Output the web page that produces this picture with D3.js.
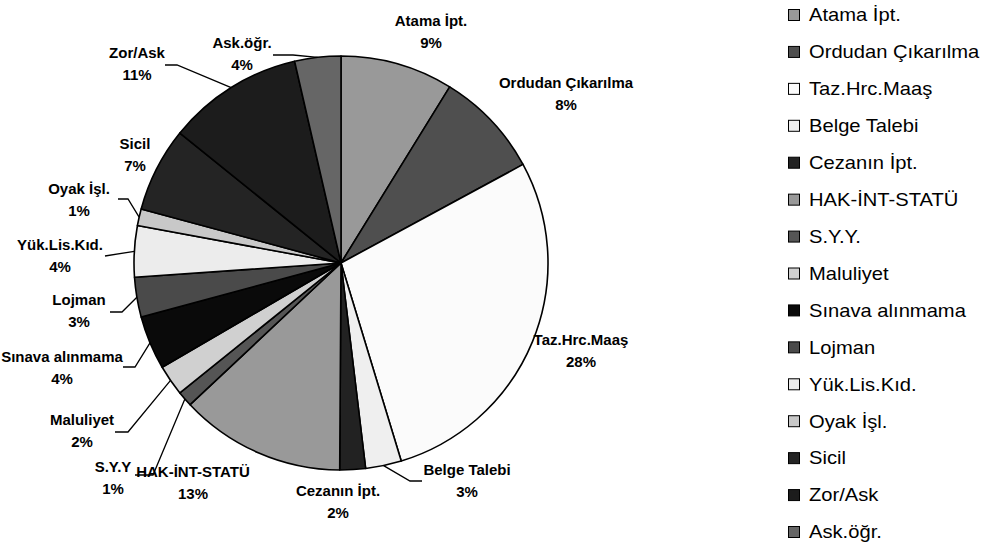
<!DOCTYPE html>
<html>
<head>
<meta charset="utf-8">
<script src="https://cdn.jsdelivr.net/npm/d3@7"></script>
<style>
  html, body { margin: 0; padding: 0; background: #fff; }
  svg { display: block; }
</style>
</head>
<body>
<svg id="chart" width="987" height="547"></svg>
<script>
// ---- data ----
const categories = ["Atama İpt.", "Ordudan Çıkarılma", "Taz.Hrc.Maaş", "Belge Talebi", "Cezanın İpt.",
  "HAK-İNT-STATÜ", "S.Y.Y.", "Maluliyet", "Sınava alınmama", "Lojman", "Yük.Lis.Kıd.",
  "Oyak İşl.", "Sicil", "Zor/Ask", "Ask.öğr."];
const sliceLabels = ["Atama İpt.", "Ordudan Çıkarılma", "Taz.Hrc.Maaş", "Belge Talebi", "Cezanın İpt.",
  "HAK-İNT-STATÜ", "S.Y.Y", "Maluliyet", "Sınava alınmama", "Lojman", "Yük.Lis.Kıd.",
  "Oyak İşl.", "Sicil", "Zor/Ask", "Ask.öğr."];
const values = [8.8, 8.3, 28.2, 2.8, 2.0, 12.9, 1.2, 2.4, 4.2, 3.1, 4.0, 1.3, 6.6, 10.6, 3.6];
const colors = ["#999999", "#4f4f4f", "#fbfbfb", "#efefef", "#222222", "#999999", "#555555",
  "#d0d0d0", "#0a0a0a", "#4a4a4a", "#ececec", "#c8c8c8", "#242424", "#1c1c1c", "#666666"];

// ---- layout (label anchors and leader elbows) ----
const labelPos = [[431, 21], [566, 83], [581, 340], [467, 470], [338, 491], [193, 472], [113, 467],
  [82, 420], [62, 357], [79, 300], [60, 245], [79, 189], [135, 144], [137, 53], [242, 43]];
const leaders = {
  3: [[410, 481], [422, 481]],
  6: [[153, 475], [135, 475]],
  7: [[128, 432], [115, 432]],
  8: [[135, 367], [123, 367]],
  9: [[122, 312], [110, 312]],
  10: [[105, 256]],
  11: [[128, 199], [118, 199]],
  13: [[177, 65], [165, 65]],
  14: [[293, 55], [273, 55]]
};

const svg = d3.select("#chart");
const cx = 341, cy = 263, R = 207;

const total = d3.sum(values);
const pie = d3.pie().sort(null).value(d => d)(values);
const arc = d3.arc().innerRadius(0).outerRadius(R);

const g = svg.append("g").attr("transform", `translate(${cx},${cy})`);
g.selectAll("path.slice").data(pie).enter().append("path")
  .attr("class", "slice")
  .attr("d", arc)
  .attr("fill", (d, i) => colors[i])
  .attr("stroke", "#000")
  .attr("stroke-width", 1.6)
  .attr("stroke-linejoin", "round");

// leader lines
const line = d3.line();
pie.forEach((d, i) => {
  if (!leaders[i]) return;
  const a = (d.startAngle + d.endAngle) / 2;
  const start = [cx + R * Math.sin(a), cy - R * Math.cos(a)];
  svg.append("path")
    .attr("d", line([start, ...leaders[i]]))
    .attr("fill", "none")
    .attr("stroke", "#000")
    .attr("stroke-width", 1.3);
});

// labels
const lab = svg.append("g")
  .attr("font-family", "'Liberation Sans', Arial, sans-serif")
  .attr("font-weight", "bold")
  .attr("font-size", "15px")
  .attr("fill", "#000")
  .attr("text-anchor", "middle");
pie.forEach((d, i) => {
  const [x, y] = labelPos[i];
  const t = lab.append("text").attr("x", x).attr("y", y);
  t.append("tspan").attr("x", x).attr("dy", "0.35em").text(sliceLabels[i]);
  t.append("tspan").attr("x", x).attr("dy", 22).text(Math.round(values[i] / total * 100) + "%");
});

// legend
const legY = d3.scalePoint().domain(categories).range([15, 532]);
const leg = svg.append("g")
  .attr("font-family", "'Liberation Sans', Arial, sans-serif")
  .attr("font-size", "18px")
  .attr("fill", "#000");
categories.forEach((c, i) => {
  const y = legY(c);
  leg.append("rect").attr("x", 788.5).attr("y", y - 5.5).attr("width", 11).attr("height", 11)
    .attr("fill", colors[i]).attr("stroke", "#000").attr("stroke-width", 1);
  leg.append("text")
    .attr("transform", `translate(809,${y}) scale(1.12,1)`)
    .attr("dy", "0.35em")
    .text(c);
});
</script>
</body>
</html>
